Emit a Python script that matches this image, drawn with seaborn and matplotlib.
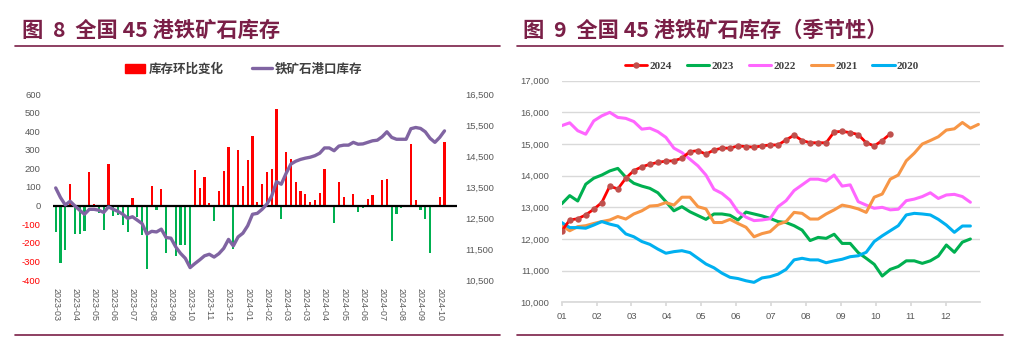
import numpy as np
import pandas as pd
import matplotlib
matplotlib.use("Agg")
import matplotlib.pyplot as plt
import seaborn as sns
from matplotlib.lines import Line2D
from matplotlib.patches import Patch

# ---------------- data: left chart (weekly, 2023-03 .. 2024-10) ----------------
inv_change = [-142, -308, -240, 118, -150, -150, -134, 181, 9, -40,
              -129, 226, -57, -52, -106, -143, 43, -61, -160, -340,
              104, -25, 90, -256, -5, -272, -210, -210, -330, 190,
              93, 154, 13, -84, 77, 186, 314, -231, 298, 104,
              247, 375, 18, 118, 181, 195, 522, -73, 289, 253,
              129, 79, 65, 18, 32, 70, 197, 2, -95, 129,
              48, 2, 65, -36, -14, 38, 59, 3, 140, 145,
              -192, -47, -14, -9, 333, 32, -25, -73, -256, 2,
              48, 340]
port_inventory = [13470, 13160, 12920, 13040, 12890, 12750, 12620, 12780, 12780, 12750,
                  12680, 12860, 12780, 12710, 12620, 12490, 12540, 12430, 12320, 11980,
                  12070, 12050, 12140, 11870, 11850, 11570, 11360, 11200, 10900, 11030,
                  11150, 11280, 11330, 11240, 11350, 11520, 11810, 11600, 11890, 12010,
                  12250, 12620, 12650, 12780, 12950, 13210, 13670, 13590, 13940, 14240,
                  14330, 14390, 14430, 14460, 14510, 14590, 14760, 14760, 14670, 14820,
                  14850, 14850, 14940, 14880, 14890, 14940, 14990, 15010, 15120, 15280,
                  15100, 15040, 15040, 15040, 15380, 15420, 15390, 15280, 15070, 14940,
                  15100, 15310]
left_tick_labels = ["2023-03", "2023-04", "2023-05", "2023-06", "2023-07", "2023-08",
                    "2023-09", "2023-10", "2023-11", "2023-12", "2024-01", "2024-02",
                    "2024-03", "2024-03", "2024-04", "2024-05", "2024-06", "2024-07",
                    "2024-08", "2024-09", "2024-10"]

# ---------------- data: right chart (seasonal, weekly) ----------------
month_labels = ["01", "02", "03", "04", "05", "06", "07", "08", "09", "10", "11", "12"]
s2024 = [12250, 12600, 12640, 12760, 12940, 13150, 13670, 13580, 13920, 14160,
         14280, 14360, 14420, 14460, 14470, 14550, 14760, 14790, 14680, 14810,
         14870, 14870, 14940, 14920, 14900, 14940, 14970, 14970, 15130, 15280,
         15110, 15040, 15040, 15040, 15380, 15400, 15360, 15300, 15040, 14940,
         15110, 15320]
s2023 = [13110, 13370, 13200, 13730, 13920, 14020, 14150, 14230, 13950, 13760,
         13670, 13600, 13460, 13180, 12890, 13020, 12860, 12740, 12620, 12790,
         12790, 12750, 12600, 12850, 12790, 12730, 12650, 12550, 12520, 12420,
         12280, 11950, 12050, 12020, 12150, 11860, 11860, 11570, 11390, 11200,
         10830, 11040, 11130, 11310, 11310, 11230, 11310, 11460, 11810, 11580,
         11900, 12000]
s2022 = [15580, 15670, 15420, 15310, 15730, 15890, 16000, 15840, 15810, 15710,
         15470, 15500, 15390, 15210, 14870, 14730, 14520, 14310, 14020, 13570,
         13440, 13230, 12860, 12690, 12580, 12600, 12640, 13020, 13210, 13530,
         13710, 13890, 13890, 13830, 14020, 13670, 13710, 13180, 13070, 12970,
         13000, 12920, 12940, 13210, 13260, 13340, 13460, 13280, 13390, 13410,
         13340, 13160]
s2021 = [12420, 12260, 12390, 12420, 12490, 12550, 12600, 12710, 12630, 12790,
         12890, 13040, 13060, 13150, 13070, 13320, 13320, 13020, 12950, 12520,
         12520, 12620, 12490, 12370, 12070, 12170, 12230, 12460, 12550, 12840,
         12810, 12630, 12630, 12790, 12920, 13070, 13020, 12950, 12840, 13320,
         13420, 13890, 14020, 14470, 14710, 15000, 15110, 15230, 15440, 15480,
         15680, 15500, 15620]
s2020 = [12520, 12360, 12360, 12340, 12440, 12550, 12470, 12410, 12160, 12070,
         11920, 11830, 11680, 11550, 11600, 11630, 11570, 11390, 11210, 11090,
         10920, 10790, 10750, 10680, 10630, 10770, 10810, 10890, 11040, 11340,
         11390, 11340, 11340, 11250, 11310, 11360, 11440, 11470, 11580, 11920,
         12100, 12260, 12420, 12760, 12810, 12790, 12760, 12620, 12440, 12210,
         12410, 12410]
years = ["2024", "2023", "2022", "2021", "2020"]

# ---------------- style ----------------
sns.set_theme(style="white")
plt.rcParams['font.family'] = ['Noto Sans CJK SC', 'DejaVu Sans']

W, H = 1015, 338
fig = plt.figure(figsize=(W / 100, H / 100), dpi=100)


def fy(py):
    return 1 - py / H


TITLE_C = '#7A1F47'
GRAY = '#595959'
NUMFONT = 'Liberation Sans'

# titles + rules
fig.text(22 / W, fy(30), "图  8  全国 45 港铁矿石库存", fontsize=15.3, fontweight='bold',
         color=TITLE_C, va='center', ha='left')
fig.text(523 / W, fy(30), "图  9  全国 45 港铁矿石库存（季节性）", fontsize=15.3, fontweight='bold',
         color=TITLE_C, va='center', ha='left')
for x0, x1 in [(15, 500), (517, 1003)]:
    for yy in (46, 335):
        fig.add_artist(Line2D([x0 / W, x1 / W], [fy(yy), fy(yy)], color=TITLE_C, lw=1.2))

# ---------------- left chart ----------------
axL = fig.add_axes([53.3 / W, fy(280), (456.5 - 53.3) / W, (280 - 94) / H])
df_left = pd.DataFrame({'week': np.arange(len(inv_change)), 'change': inv_change})
df_left['sign'] = np.where(df_left['change'] >= 0, 'up', 'down')
sns.barplot(data=df_left, x='week', y='change', hue='sign',
            palette={'up': '#FF0000', 'down': '#00B050'}, dodge=False, width=0.48,
            saturation=1, legend=False, ax=axL, edgecolor='none', linewidth=0)
axL.set_xlim(-0.5, 83.5)
axL.set_ylim(-400, 600)
axL.axhline(0, color='black', lw=1.6, zorder=3)
yt = list(range(-400, 601, 100))
axL.set_yticks(yt)
axL.set_yticklabels([str(v) for v in yt], fontsize=6.8, fontfamily=NUMFONT)
for lab, v in zip(axL.get_yticklabels(), yt):
    lab.set_color('#FF0000' if v < 0 else GRAY)
axL.set_xticks(range(0, len(inv_change), 4))
axL.set_xticklabels(left_tick_labels, rotation=270, fontsize=6.4, color=GRAY,
                    fontfamily=NUMFONT)
axL.tick_params(axis='both', length=0)
axL.tick_params(axis='y', pad=9)
axL.tick_params(axis='x', pad=6)
axL.set_xlabel('')
axL.set_ylabel('')
for s in axL.spines.values():
    s.set_visible(False)

axR = axL.twinx()
sns.lineplot(x=np.arange(len(port_inventory)), y=port_inventory, color='#8064A2',
             lw=2.4, ax=axR)
axR.set_ylim(10500, 16500)
rt = list(range(10500, 16501, 1000))
axR.set_yticks(rt)
axR.set_yticklabels([f"{v:,}" for v in rt], fontsize=6.8, color=GRAY, fontfamily=NUMFONT)
axR.tick_params(axis='y', length=0, pad=6)
axR.set_ylabel('')
for s in axR.spines.values():
    s.set_visible(False)
axR.set_xlim(-0.5, 83.5)

legL = fig.legend(handles=[Patch(color='#FF0000', label='库存环比变化'),
                           Line2D([0], [0], color='#8064A2', lw=2.4, label='铁矿石港口库存')],
                  loc='center', bbox_to_anchor=(244 / W, fy(69)), ncol=2, frameon=False,
                  prop={'size': 9, 'weight': 'bold'}, handlelength=1.6, handleheight=0.7,
                  columnspacing=2.3, handletextpad=0.25)
for t in legL.get_texts():
    t.set_color('#404040')

# ---------------- right chart ----------------
ax3 = fig.add_axes([561.7 / W, fy(302.3), (980 - 561.7) / W, 221.6 / H])
series = [s2024, s2023, s2022, s2021, s2020]
colors = ['#FF0000', '#00B050', '#FF66FF', '#F79646', '#00B0F0']
for name, vals, col in zip(years, series, colors):
    if name == "2024":
        sns.lineplot(x=np.arange(len(vals)), y=vals, color=col, lw=2.0, marker='o',
                     markersize=4.6, markerfacecolor='#C0504D', markeredgecolor='#C0504D',
                     markeredgewidth=0, label=name, ax=ax3, zorder=5)
    else:
        sns.lineplot(x=np.arange(len(vals)), y=vals, color=col, lw=2.2, label=name, ax=ax3)
ax3.set_xlim(0, 52.2)
ax3.set_ylim(10000, 17000)
yt3 = list(range(10000, 17001, 1000))
ax3.set_yticks(yt3)
ax3.set_yticklabels([f"{v:,}" for v in yt3], fontsize=6.8, color=GRAY, fontfamily=NUMFONT)
ax3.set_xticks(np.arange(12) * 52.25 / 12)
ax3.set_xticklabels(month_labels, fontsize=6.8, color=GRAY, fontfamily=NUMFONT)
ax3.grid(axis='y', color='#D9D9D9', lw=1.0)
ax3.grid(axis='x', visible=False)
ax3.set_axisbelow(True)
for k, s in ax3.spines.items():
    s.set_visible(k == 'bottom')
ax3.spines['bottom'].set_color('#D9D9D9')
ax3.tick_params(axis='x', length=3, color='#D9D9D9', direction='out', pad=4, bottom=True)
ax3.tick_params(axis='y', length=0, pad=9)
ax3.set_xlabel('')
ax3.set_ylabel('')
leg3 = ax3.legend(loc='center', bbox_to_anchor=(0.503, 1.066), ncol=5, frameon=False,
                  prop={'family': 'Liberation Serif', 'weight': 'bold', 'size': 8},
                  handlelength=2.0, columnspacing=1.35, handletextpad=0.2)
for t in leg3.get_texts():
    t.set_color('#404040')

fig.savefig("out.png", dpi=100)
